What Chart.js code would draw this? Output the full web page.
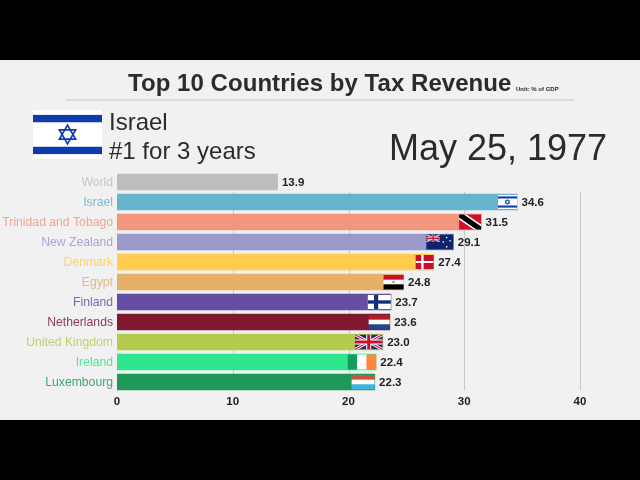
<!DOCTYPE html>
<html lang="en">
<head>
<meta charset="UTF-8">
<title>Top 10 Countries by Tax Revenue</title>
<script src="https://cdn.jsdelivr.net/npm/chart.js"></script>
<style>
    html, body { margin: 0; padding: 0; background: #000; }
    body { width: 640px; height: 480px; position: relative; overflow: hidden; font-family: "Liberation Sans", Arial, sans-serif; color: #2b2b2b; }
    .band { position: absolute; left: 0; top: 60px; width: 640px; height: 360px; background: #f1f1f1; }
    canvas { position: absolute; left: 0; top: 0; }
    .txt { position: absolute; white-space: nowrap; line-height: 1; }
    #title { left: 128px; top: 71px; font-size: 24px; font-weight: bold; letter-spacing: 0.05px; }
    #unit { left: 516px; top: 86px; font-size: 6px; font-weight: bold; }
    #rule { position: absolute; left: 66px; top: 99px; width: 508px; height: 2px; background: #dcdcdc; }
    #leader { left: 109px; top: 110px; font-size: 24px; }
    #streak { left: 109px; top: 139px; font-size: 24px; }
    #date { left: 389px; top: 130px; font-size: 36px; }
</style>
</head>
<body>
<div class="band"></div>
<canvas id="chart" width="640" height="480"></canvas>
<div class="txt" id="title">Top 10 Countries by Tax Revenue</div>
<div class="txt" id="unit">Unit: % of GDP</div>
<div id="rule"></div>
<div class="txt" id="leader">Israel</div>
<div class="txt" id="streak">#1 for 3 years</div>
<div class="txt" id="date">May 25, 1977</div>

<script>
const countries = ['World', 'Israel', 'Trinidad and Tobago', 'New Zealand', 'Denmark', 'Egypt', 'Finland', 'Netherlands', 'United Kingdom', 'Ireland', 'Luxembourg'];
const taxRevenue = [13.9, 34.6, 31.5, 29.1, 27.4, 24.8, 23.7, 23.6, 23.0, 22.4, 22.3];
const barColors = ['#bdbdbd', '#66b3cc', '#f4967d', '#9b99cc', '#ffcc4d', '#e6b066', '#664fa3', '#80182f', '#b3cc4d', '#2ee68c', '#1f9958'];
const xTicks = [0, 10, 20, 30, 40];

const ISRAEL_BLUE = '#0f3cad';

function stripesH(c, x, y, w, h, cols) {
    cols.forEach((col, i) => {
        c.fillStyle = col;
        c.fillRect(x, y + h * i / cols.length, w, h / cols.length + 0.5);
    });
}
function stripesV(c, x, y, w, h, cols) {
    cols.forEach((col, i) => {
        c.fillStyle = col;
        c.fillRect(x + w * i / cols.length, y, w / cols.length + 0.5, h);
    });
}
function israel(c, x, y, w, h) {
    c.fillStyle = '#fff';
    c.fillRect(x, y, w, h);
    c.fillStyle = ISRAEL_BLUE;
    c.fillRect(x, y + h * 0.1, w, h * 0.15);
    c.fillRect(x, y + h * 0.75, w, h * 0.15);
    const r = h * 0.19, cx = x + w / 2, cy = y + h / 2;
    c.strokeStyle = ISRAEL_BLUE;
    c.lineWidth = Math.max(0.7, h * 0.035);
    [-1, 1].forEach(s => {
        c.beginPath();
        c.moveTo(cx, cy - s * r);
        c.lineTo(cx + r * 0.87, cy + s * r / 2);
        c.lineTo(cx - r * 0.87, cy + s * r / 2);
        c.closePath();
        c.stroke();
    });
}
function unionJack(c, x, y, w, h) {
    c.save();
    c.beginPath();
    c.rect(x, y, w, h);
    c.clip();
    c.fillStyle = '#1b2a6b';
    c.fillRect(x, y, w, h);
    c.strokeStyle = '#fff';
    c.lineWidth = h * 0.2;
    c.beginPath();
    c.moveTo(x, y); c.lineTo(x + w, y + h);
    c.moveTo(x + w, y); c.lineTo(x, y + h);
    c.stroke();
    c.strokeStyle = '#c8102e';
    c.lineWidth = h * 0.07;
    c.stroke();
    c.fillStyle = '#fff';
    c.fillRect(x + w / 2 - h * 0.17, y, h * 0.34, h);
    c.fillRect(x, y + h * 0.33, w, h * 0.34);
    c.fillStyle = '#c8102e';
    c.fillRect(x + w / 2 - h * 0.1, y, h * 0.2, h);
    c.fillRect(x, y + h * 0.4, w, h * 0.2);
    c.restore();
}
const flags = {
    'Israel': { w: 19, h: 14, draw: israel },
    'Trinidad and Tobago': { w: 22, h: 15, draw(c, x, y, w, h) {
        c.fillStyle = '#ce1126';
        c.fillRect(x, y, w, h);
        c.save();
        c.beginPath();
        c.rect(x, y, w, h);
        c.clip();
        c.strokeStyle = '#fff';
        c.lineWidth = h * 0.55;
        c.beginPath();
        c.moveTo(x, y); c.lineTo(x + w, y + h);
        c.stroke();
        c.strokeStyle = '#000';
        c.lineWidth = h * 0.35;
        c.stroke();
        c.restore();
    } },
    'New Zealand': { w: 27, h: 15, draw(c, x, y, w, h) {
        c.fillStyle = '#10246e';
        c.fillRect(x, y, w, h);
        unionJack(c, x, y, w / 2, h / 2);
        c.fillStyle = '#fff';
        [[0.75, 0.2], [0.88, 0.42], [0.63, 0.5], [0.75, 0.82]].forEach(p => {
            c.fillRect(x + w * p[0] - 0.7, y + h * p[1] - 0.7, 1.4, 1.4);
        });
    } },
    'Denmark': { w: 18, h: 14, draw(c, x, y, w, h) {
        c.fillStyle = '#c8102e';
        c.fillRect(x, y, w, h);
        c.fillStyle = '#fff';
        c.fillRect(x + w * 0.31, y, w * 0.13, h);
        c.fillRect(x, y + h * 0.43, w, h * 0.14);
    } },
    'Egypt': { w: 20, h: 14, draw(c, x, y, w, h) {
        stripesH(c, x, y, w, h, ['#c8102e', '#fff', '#000']);
        c.fillStyle = '#c09300';
        c.fillRect(x + w / 2 - 1, y + h / 2 - 1, 2, 2);
    } },
    'Finland': { w: 23, h: 14, draw(c, x, y, w, h) {
        c.fillStyle = '#fff';
        c.fillRect(x, y, w, h);
        c.fillStyle = '#12317a';
        c.fillRect(x + w * 0.27, y, w * 0.18, h);
        c.fillRect(x, y + h * 0.38, w, h * 0.24);
    } },
    'Netherlands': { w: 21, h: 14, draw(c, x, y, w, h) {
        stripesH(c, x, y, w, h, ['#ae1c28', '#fff', '#21468b']);
    } },
    'United Kingdom': { w: 28, h: 15, draw: unionJack },
    'Ireland': { w: 28, h: 15, draw(c, x, y, w, h) {
        stripesV(c, x, y, w, h, ['#169b62', '#fff', '#ff883e']);
    } },
    'Luxembourg': { w: 23, h: 14, draw(c, x, y, w, h) {
        stripesH(c, x, y, w, h, ['#c8553f', '#fff', '#3fb4e0']);
    } }
};

// grid only runs from the second row down, the first row has no lines behind it
const gridPlugin = {
    id: 'rowGrid',
    beforeDatasetsDraw(chart) {
        const c = chart.ctx, xs = chart.scales.x, ys = chart.scales.y;
        const top = ys.getPixelForValue(1) - 10;
        c.save();
        c.strokeStyle = '#c8c8c8';
        c.lineWidth = 1;
        xTicks.slice(1).forEach(t => {
            const px = Math.round(xs.getPixelForValue(t)) + 0.5;
            c.beginPath();
            c.moveTo(px, top);
            c.lineTo(px, ys.bottom - 2);
            c.stroke();
        });
        c.restore();
    }
};

const barEndPlugin = {
    id: 'barEnds',
    afterDatasetsDraw(chart) {
        const c = chart.ctx;
        const bars = chart.getDatasetMeta(0).data;
        c.save();
        c.font = 'bold 11.5px "Liberation Sans", Arial, sans-serif';
        c.textBaseline = 'middle';
        bars.forEach((bar, i) => {
            const name = countries[i], f = flags[name];
            if (f) f.draw(c, bar.x - f.w - 0.5, bar.y - f.h / 2, f.w, f.h);
            c.fillStyle = '#222';
            c.textAlign = 'left';
            c.fillText(taxRevenue[i].toFixed(1), bar.x + 4, bar.y + 0.5);
        });
        israel(c, 33, 110, 69, 49);
        c.restore();
    }
};

new Chart(document.getElementById('chart'), {
    type: 'bar',
    data: {
        labels: countries,
        datasets: [{
            data: taxRevenue,
            backgroundColor: barColors,
            borderWidth: 0,
            barPercentage: 0.83,
            categoryPercentage: 1
        }]
    },
    plugins: [gridPlugin, barEndPlugin],
    options: {
        indexAxis: 'y',
        responsive: false,
        animation: false,
        layout: { padding: { top: 172, right: 60, bottom: 0, left: 0 } },
        plugins: { legend: { display: false }, tooltip: { enabled: false } },
        scales: {
            x: {
                min: 0,
                max: 40,
                afterBuildTicks(axis) { axis.ticks = xTicks.map(v => ({ value: v })); },
                afterFit(axis) { axis.height = 88; },
                grid: { display: false, drawTicks: false, tickLength: 0 },
                border: { display: false },
                ticks: {
                    maxRotation: 0,
                    padding: 3,
                    color: '#1c1c1c',
                    font: { family: '"Liberation Sans", Arial, sans-serif', size: 11.5, weight: 'bold' }
                }
            },
            y: {
                afterFit(axis) { axis.width = 117; },
                grid: { display: false, drawTicks: false, tickLength: 0 },
                border: { display: false },
                ticks: {
                    autoSkip: false,
                    padding: 4,
                    labelOffset: 1,
                    color: ctx => barColors[ctx.index] + 'd9',
                    font: { family: '"Liberation Sans", Arial, sans-serif', size: 12.2 }
                }
            }
        }
    }
});
</script>
</body>
</html>
